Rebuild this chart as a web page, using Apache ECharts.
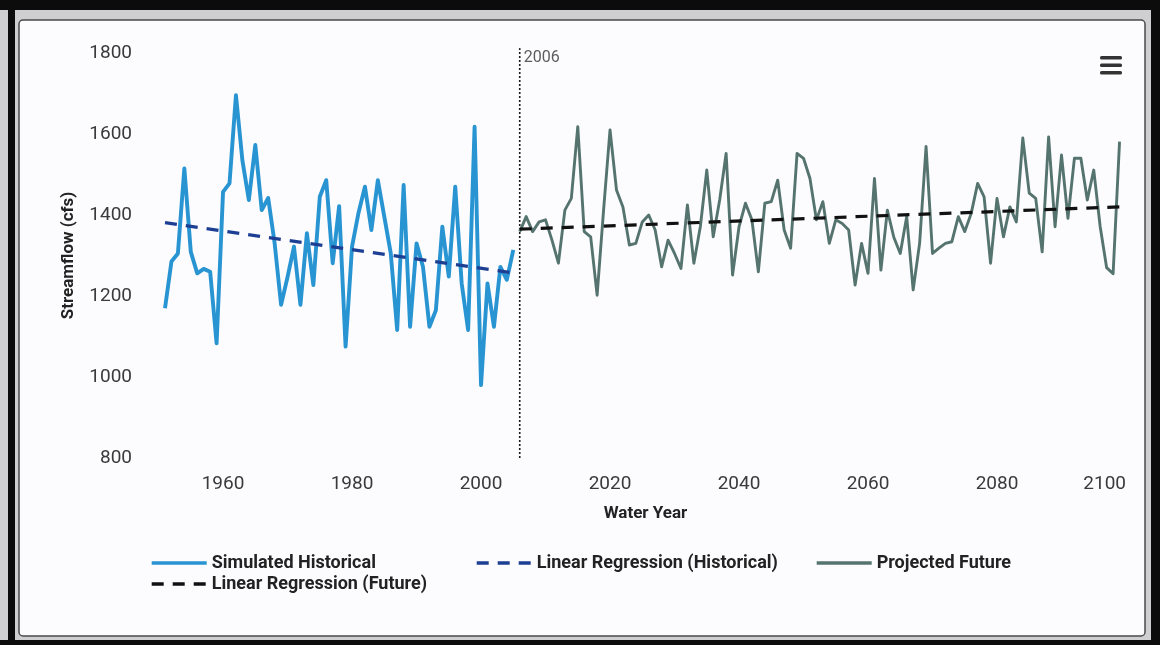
<!DOCTYPE html>
<html>
<head>
<meta charset="utf-8">
<title>Streamflow</title>
<script src="https://cdn.jsdelivr.net/npm/echarts@6/dist/echarts.min.js"></script>
<style>
  html, body { margin: 0; padding: 0; background: #0c0c0c; }
  #chart { width: 1160px; height: 645px; }
</style>
</head>
<body>
<div id="chart"></div>
<script>
// Annual streamflow (cfs) by water year
const histStartYear = 1951;
const historical = [
  1170, 1285, 1305, 1515, 1309, 1256, 1267, 1260, 1083, 1457,
  1478, 1696, 1535, 1437, 1573, 1412, 1442, 1330, 1178, 1247,
  1322, 1178, 1355, 1227, 1445, 1486, 1281, 1422, 1075, 1322,
  1405, 1470, 1363, 1486, 1396, 1306, 1116, 1474, 1124, 1330,
  1272, 1124, 1165, 1371, 1248, 1470, 1231, 1116, 1618, 980,
  1231, 1124, 1272, 1240, 1314
];

const futureStartYear = 2006;
const future = [
  1359, 1396, 1359, 1383, 1388, 1338, 1281, 1412, 1441, 1618,
  1359, 1346, 1202, 1412, 1610, 1462, 1420, 1326, 1330, 1383,
  1400, 1363, 1272, 1338, 1305, 1268, 1425, 1281, 1371, 1511,
  1346, 1437, 1552, 1252, 1371, 1429, 1388, 1260, 1429, 1433,
  1486, 1363, 1318, 1552, 1540, 1490, 1388, 1433, 1330, 1388,
  1379, 1363, 1227, 1330, 1256, 1490, 1264, 1412, 1345, 1305,
  1396, 1215, 1330, 1569, 1305, 1318, 1330, 1334, 1396, 1359,
  1404, 1478, 1445, 1281, 1441, 1346, 1420, 1383, 1590, 1454,
  1441, 1309, 1593, 1371, 1548, 1392, 1540, 1540, 1437, 1511,
  1371, 1270, 1255, 1581
];

// Fitted trend lines: [year, cfs] end points
const histTrend = [[1951, 1381], [2005, 1257]];
const futureTrend = [[2006, 1365], [2099, 1420]];

// Boundary between simulated and projected periods
const splitYear = 2006;
const splitSpan = [800, 1812];

const xTicks = [1960, 1980, 2000, 2020, 2040, 2060, 2080, 2100];
const yTicks = [800, 1000, 1200, 1400, 1600, 1800];

const toPairs = (start, vals) => vals.map((v, i) => [start + i, v]);

const names = {
  hist: 'Simulated Historical',
  histReg: 'Linear Regression (Historical)',
  fut: 'Projected Future',
  futReg: 'Linear Regression (Future)'
};

const baseFont = 'Roboto, "Noto Sans", sans-serif';

const legendBase = {
  orient: 'horizontal',
  padding: 0,
  itemWidth: 55,
  itemHeight: 14,
  itemGap: 10,
  selectedMode: false,
  itemStyle: { opacity: 0 },
  lineStyle: { width: 3.4 },
  textStyle: { fontFamily: baseFont, fontWeight: 'bold', fontSize: 18, color: '#222' }
};

const chart = echarts.init(document.getElementById('chart'), null, { renderer: 'canvas' });

chart.setOption({
  animation: false,
  backgroundColor: '#0c0c0c',
  graphic: [
    // page surround and panel
    { type: 'rect', z: -10, shape: { x: 0, y: 10, width: 1151, height: 630 }, style: { fill: '#cfcfd2' } },
    { type: 'rect', z: -10, shape: { x: 8, y: 0, width: 7, height: 645 }, style: { fill: '#0c0c0c' } },
    { type: 'rect', z: -9, shape: { x: 19, y: 20, width: 1126, height: 616, r: 4 },
      style: { fill: '#fcfcfe', stroke: '#4a4a4a', lineWidth: 1.5 } },
    // menu icon
    { type: 'rect', z: 20, shape: { x: 1100, y: 56, width: 22, height: 3.5, r: 1.5 }, style: { fill: '#333' } },
    { type: 'rect', z: 20, shape: { x: 1100, y: 63.5, width: 22, height: 3.5, r: 1.5 }, style: { fill: '#333' } },
    { type: 'rect', z: 20, shape: { x: 1100, y: 71, width: 22, height: 3.5, r: 1.5 }, style: { fill: '#333' } }
  ],
  grid: { left: 165, right: 34, top: 53, bottom: 187, containLabel: false },
  legend: [
    Object.assign({}, legendBase, { left: 150, top: 554, data: [names.hist] }),
    Object.assign({}, legendBase, { left: 475, top: 554, data: [names.histReg] }),
    Object.assign({}, legendBase, { left: 815, top: 554, data: [names.fut] }),
    Object.assign({}, legendBase, { left: 150, top: 575, data: [names.futReg] })
  ],
  xAxis: {
    type: 'value',
    min: histStartYear,
    max: 2100,
    name: 'Water Year',
    nameLocation: 'middle',
    nameGap: 47,
    nameTextStyle: { fontFamily: baseFont, fontWeight: 'bold', fontSize: 17, color: '#222' },
    axisLine: { show: false },
    axisTick: { show: false },
    splitLine: { show: false },
    axisLabel: {
      customValues: xTicks,
      alignMaxLabel: 'right',
      margin: 17,
      fontFamily: baseFont,
      fontSize: 19,
      color: '#3a3a3a',
      formatter: v => String(v)
    }
  },
  yAxis: {
    type: 'value',
    min: yTicks[0],
    max: yTicks[yTicks.length - 1],
    interval: 200,
    name: 'Streamflow (cfs)',
    nameLocation: 'middle',
    nameGap: 88,
    nameTextStyle: { fontFamily: baseFont, fontWeight: 'bold', fontSize: 17, color: '#222' },
    axisLine: { show: false },
    axisTick: { show: false },
    splitLine: { show: false },
    axisLabel: { margin: 33, fontFamily: baseFont, fontSize: 19, color: '#3a3a3a', formatter: v => String(v) }
  },
  series: [
    {
      name: names.hist,
      type: 'line',
      data: toPairs(histStartYear, historical),
      showSymbol: false,
      symbol: 'none',
      color: '#2894d2',
      lineStyle: { width: 3.9, color: '#2894d2', join: 'round' },
      z: 3
    },
    {
      name: names.histReg,
      type: 'line',
      data: histTrend,
      symbol: 'none',
      color: '#1d3f93',
      lineStyle: { width: 3.2, type: [12, 9], color: '#1d3f93' },
      z: 4
    },
    {
      name: names.fut,
      type: 'line',
      data: toPairs(futureStartYear, future),
      showSymbol: false,
      symbol: 'none',
      color: '#56746f',
      lineStyle: { width: 2.9, color: '#56746f', join: 'round' },
      z: 3
    },
    {
      name: names.futReg,
      type: 'line',
      data: futureTrend,
      symbol: 'none',
      color: '#111111',
      lineStyle: { width: 3.2, type: [12, 9], color: '#111111' },
      z: 4
    },
    {
      // dotted divider at the start of the projection period
      name: 'splitLine',
      type: 'line',
      data: splitSpan.map(v => [splitYear, v]),
      symbol: 'none',
      silent: true,
      clip: false,
      lineStyle: { type: [2, 2], color: '#1a1a1a', width: 1.6 },
      z: 2
    },
    {
      name: 'splitLabel',
      type: 'scatter',
      data: [[splitYear, 1800]],
      symbolSize: 0,
      silent: true,
      label: {
        show: true,
        position: 'right',
        distance: 4,
        offset: [0, 5],
        formatter: () => String(splitYear),
        fontFamily: baseFont,
        fontSize: 16,
        color: '#333'
      }
    }
  ]
});
</script>
</body>
</html>
